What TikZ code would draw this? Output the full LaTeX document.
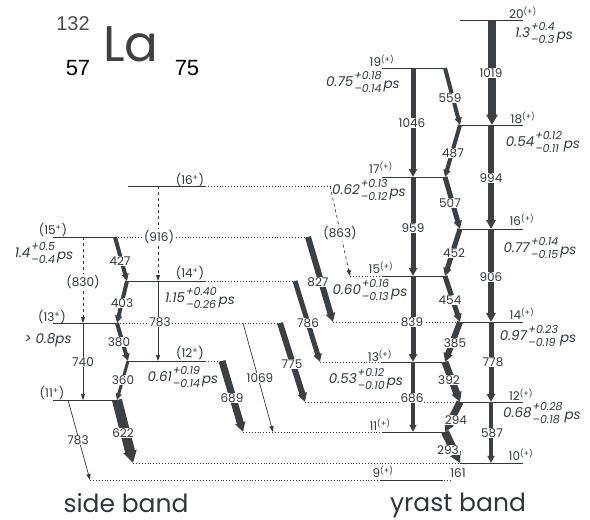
\documentclass[tikz,border=0pt]{standalone}
\usepackage{fontspec}
\setmainfont{Poppins}
\newfontfamily\arialfont{Liberation Sans}
\usetikzlibrary{arrows.meta}

\definecolor{ink}{RGB}{50,54,58}
\definecolor{gcol}{RGB}{58,64,68}

% lifetime: value, upper and lower error
\newcommand{\lt}[3]{\textit{#1}\hspace{1pt}\begin{tabular}{@{}l@{}}\fontsize{11}{11}\selectfont\textit{#2}\\[-1.5pt]\fontsize{11}{11}\selectfont\textit{#3}\end{tabular}\hspace{2pt}\raisebox{-2pt}{\textit{ps}}}
\newcommand{\ylev}[1]{#1\textsuperscript{(+)}}
\newcommand{\slev}[1]{(#1\textsuperscript{+})}

\tikzset{
  lev/.style={draw=ink, line width=0.9pt},
  dotlev/.style={draw=ink, line width=0.9pt, dotted},
  gam/.style={draw=gcol, line width=#1, -{Triangle[length=4pt 0.8, width=3pt 1]}},
  weak/.style={draw=ink, line width=0.7pt, -{Triangle[length=6pt, width=4pt]}},
  dashtr/.style={weak, dashed},
  en/.style={fill=white, inner sep=0.8pt, font=\fontsize{12}{12}\selectfont, text=ink},
  spin/.style={font=\fontsize{12}{12}\selectfont, text=ink, inner sep=0pt},
  life/.style={font=\fontsize{13.5}{14}\selectfont, text=ink, inner sep=0pt},
  band/.style={font=\fontsize{25}{25}\selectfont, text=ink, inner sep=0pt},
}

\begin{document}
\begin{tikzpicture}[x=1pt,y=-1pt]
\useasboundingbox (0,0) rectangle (590,520);

% nucleus
\node[font=\arialfont\fontsize{20}{20}\selectfont, text=black!70] (mass) at (73,24) {132};
\node[font=\fontsize{50}{50}\selectfont, text=black!75] (elem) at (131,44) {La};
\node[font=\arialfont\fontsize{22}{22}\selectfont] (prot) at (78,68) {57};
\node[font=\arialfont\fontsize{22}{22}\selectfont] (neut) at (187,68) {75};

% yrast band levels
\foreach \n/\x/\y in {20/460/20,18/460/125,16/460/229,14/460/322,12/460/402,10/460/463,
                      19/382/68,17/382/177,15/382/276,13/382/362,11/382/432}
  {\coordinate (L\n) at (\x,\y); \coordinate (R\n) at (\x+63,\y);}
\coordinate (L9) at (380,480);
\coordinate (R9) at (443,480);

% side band levels
\coordinate (s16a) at (128,186); \coordinate (s16b) at (205,186); \coordinate (s16c) at (330,186);
\coordinate (s15a) at (53,237);  \coordinate (s15b) at (115,237); \coordinate (s15c) at (308,237);
\coordinate (s14a) at (127,281); \coordinate (s14b) at (205,281); \coordinate (s14c) at (295,281);
\coordinate (s13a) at (53,323);  \coordinate (s13b) at (117,323); \coordinate (s13c) at (280,323);
\coordinate (s12a) at (128,361); \coordinate (s12b) at (205,361); \coordinate (s12c) at (222,361);
\coordinate (s11a) at (53,400);  \coordinate (s11b) at (117,400);

% ends of the dotted extensions
\coordinate (t15) at (350,276);
\coordinate (t14) at (333,322);
\coordinate (t13) at (320,362);
\coordinate (t12) at (305,402);
\coordinate (t11) at (243,432);
\coordinate (t10) at (133,463);
\coordinate (t9) at (90,480);

\draw[dotlev] (s16b) -- (s16c);
\draw[dotlev] (s15b) -- (s15c);
\draw[dotlev] (s14b) -- (s14c);
\draw[dotlev] (s13b) -- (s13c);
\draw[dotlev] (s12b) -- (s12c);
\draw[dotlev] (t15) -- (L15);
\draw[dotlev] (t14) -- (L14);
\draw[dotlev] (t13) -- (L13);
\draw[dotlev] (t12) -- (L12);
\draw[dotlev] (t11) -- (L11);
\draw[dotlev] (t10) -- (L10);
\draw[dotlev] (t9) -- (452,480);

\foreach \n in {20,19,...,9} \draw[lev] (L\n) -- (R\n);
\draw[lev] (s16a) -- (s16b);
\draw[lev] (s15a) -- (s15b);
\draw[lev] (s14a) -- (s14b);
\draw[lev] (s13a) -- (s13b);
\draw[lev] (s12a) -- (s12b);
\draw[lev] (s11a) -- (s11b);

% yrast transitions
\draw[gam=8pt] (492,0 |- L20) -- (492,0 |- L18);
\draw[gam=6pt] (491,0 |- L18) -- (491,0 |- L16);
\draw[gam=6pt] (491,0 |- L16) -- (491,0 |- L14);
\draw[gam=5pt] (491,0 |- L14) -- (491,0 |- L12);
\draw[gam=4pt] (491,0 |- L12) -- (491,0 |- L10);
\draw[gam=5pt] (413,0 |- L19) -- (413,0 |- L17);
\draw[gam=5pt] (413,0 |- L17) -- (413,0 |- L15);
\draw[gam=5pt] (413,0 |- L15) -- (413,0 |- L13);
\draw[gam=4pt] (413,0 |- L13) -- (413,0 |- L11);
\draw[gam=4pt] (R19) -- (L18);
\draw[gam=4pt] (L18) -- (R17);
\draw[gam=5pt] (R17) -- (L16);
\draw[gam=5pt] (L16) -- (R15);
\draw[gam=5pt] (R15) -- (L14);
\draw[gam=6pt] (L14) -- (R13);
\draw[gam=7pt] (R13) -- (L12);
\draw[gam=7pt] (L12) -- (R11);
\draw[gam=8pt] (R11) -- (L10);

% side band transitions
\draw[gam=4pt] (s15b) -- (s14a);
\draw[gam=4pt] (s14a) -- (s13b);
\draw[gam=4pt] (s13b) -- (s12a);
\draw[gam=3pt] (s12a) -- (s11b);
\draw[gam=10pt] (s11b) -- (t10);
\draw[weak] (68,0 |- s11a) -- (t9);
\draw[weak] (83,0 |- s13a) -- (83,0 |- s11a);
\draw[dashtr] (83,0 |- s15a) -- (83,0 |- s13a);
\draw[dashtr] (158,0 |- s16a) -- (158,0 |- s14a);
\draw[weak] (158,0 |- s14a) -- (158,0 |- s12a);
\draw[gam=6pt] (s15c) -- (t14);
\draw[gam=5pt] (s14c) -- (t13);
\draw[gam=6pt] (s13c) -- (t12);
\draw[gam=7pt] (s12c) -- (t11);
\draw[weak] (243,0 |- s13a) -- (273,0 |- L11);
\draw[dashtr] (s16c) -- (t15);

% energies
\node[en] (e1019) at (491,73) {1019};
\node[en] (e994) at (491,178) {994};
\node[en] (e906) at (491,277) {906};
\node[en] (e778) at (493,362) {778};
\node[en] (e587) at (492,433) {587};
\node[en] (e1046) at (412,123) {1046};
\node[en] (e959) at (413,228) {959};
\node[en] (e839) at (412,322) {839};
\node[en] (e686) at (412,398) {686};
\node[en] (e559) at (450,98) {559};
\node[en] (e487) at (453,153) {487};
\node[en] (e507) at (450,203) {507};
\node[en] (e452) at (454,253) {452};
\node[en] (e454) at (450,300) {454};
\node[en] (e385) at (455,343) {385};
\node[en] (e392) at (449,380) {392};
\node[en] (e294) at (456,420) {294};
\node[en] (e293) at (448,450) {293};
\node[en] (e161) at (458,473) {161};
\node[en] (e427) at (120,261) {427};
\node[en] (e403) at (122,303) {403};
\node[en] (e380) at (119,342) {380};
\node[en] (e360) at (123,380) {360};
\node[en] (e622) at (123,433) {622};
\node[en] (e783b) at (78,440) {783};
\node[en] (e740) at (83,362) {740};
\node[en] (e830) at (83,282) {(830)};
\node[en] (e916) at (159,237) {(916)};
\node[en] (e783a) at (160,322) {783};
\node[en] (e827) at (318,282) {827};
\node[en] (e786) at (308,323) {786};
\node[en] (e775) at (292,364) {775};
\node[en] (e689) at (232,398) {689};
\node[en] (e1069) at (260,378) {1069};
\node[en] (e863) at (340,233) {(863)};

% spins
\node[spin] (j20) at (523,13) {\ylev{20}};
\node[spin] (j18) at (523,118) {\ylev{18}};
\node[spin] (j16) at (522,220) {\ylev{16}};
\node[spin] (j14) at (522,314) {\ylev{14}};
\node[spin] (j12) at (521,395) {\ylev{12}};
\node[spin] (j10) at (521,455) {\ylev{10}};
\node[spin] (j19) at (382,61) {\ylev{19}};
\node[spin] (j17) at (381,168) {\ylev{17}};
\node[spin] (j15) at (381,268) {\ylev{15}};
\node[spin] (j13) at (380,356) {\ylev{13}};
\node[spin] (j11) at (380,425) {\ylev{11}};
\node[spin] (j9) at (383,472) {\ylev{9}};
\node[spin] (k16) at (190,180) {\slev{16}};
\node[spin] (k15) at (53,230) {\slev{15}};
\node[spin] (k14) at (190,273) {\slev{14}};
\node[spin] (k13) at (52,317) {\slev{13}};
\node[spin] (k12) at (190,353) {\slev{12}};
\node[spin] (k11) at (52,393) {\slev{11}};

% lifetimes
\node[life] (tau20) at (544,34) {\lt{1.3}{+0.4}{–0.3}};
\node[life] (tau18) at (543,143) {\lt{0.54}{+0.12}{–0.11}};
\node[life] (tau16) at (540,249) {\lt{0.77}{+0.14}{–0.15}};
\node[life] (tau14) at (538,337) {\lt{0.97}{+0.23}{–0.19}};
\node[life] (tau12) at (542,414) {\lt{0.68}{+0.28}{–0.18}};
\node[life] (tau19) at (363,83) {\lt{0.75}{+0.18}{–0.14}};
\node[life] (tau17) at (369,191) {\lt{0.62}{+0.13}{–0.12}};
\node[life] (tau15) at (370,291) {\lt{0.60}{+0.16}{–0.13}};
\node[life] (tau13) at (366,380) {\lt{0.53}{+0.12}{–0.10}};
\node[life] (taus15) at (44,254) {\lt{1.4}{+0.5}{–0.4}};
\node[life] (taus14) at (200,299) {\lt{1.15}{+0.40}{–0.26}};
\node[life] (taus13) at (48,340) {\textit{> 0.8ps}};
\node[life] (taus12) at (183,378) {\lt{0.61}{+0.19}{–0.14}};

\node[band] (side) at (126,503) {side band};
\node[band] (yrast) at (458,505) {yrast band};
\end{tikzpicture}
\end{document}
